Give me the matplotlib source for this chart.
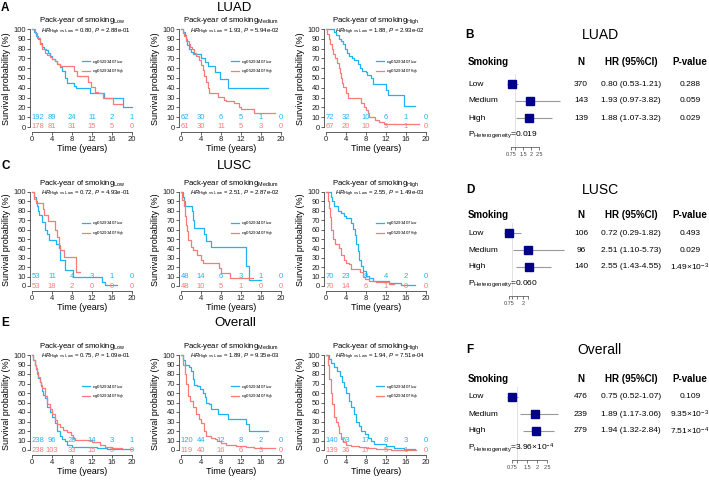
import numpy as np
import matplotlib
matplotlib.use('Agg')
import matplotlib.pyplot as plt
from matplotlib.transforms import blended_transform_factory

plt.rcParams['font.family'] = ['Liberation Sans', 'DejaVu Sans']
plt.rcParams['mathtext.fontset'] = 'custom'
plt.rcParams['mathtext.rm'] = 'Liberation Sans'
plt.rcParams['mathtext.it'] = 'Liberation Sans:italic'
plt.rcParams['mathtext.bf'] = 'Liberation Sans:bold'

W, H = 709, 480
BLUE = '#1fb3f2'
RED = '#f77b7b'
NAVY = '#00008b'

# ---------------- data ----------------
risk_times = [0, 4, 8, 12, 16, 20]
strata = ['Low', 'Medium', 'High']

# (time, survival %); *_lo = cg05293407 Low, *_hi = High
luad_low_lo = ([0, 0.4, 0.8, 1.2, 1.6, 2.0, 2.4, 2.8, 3.2, 3.6, 4.0, 4.5, 5.0, 5.5, 6.0, 6.5, 7.0, 8.3, 8.8, 11.6, 14.3, 18.2, 20.0],
               [100, 97, 93, 90, 86, 82, 80, 79, 76, 72, 69, 67, 64, 61, 57, 50, 45, 42, 40, 35, 30, 20, 20])
luad_low_hi = ([0, 0.5, 1.0, 1.5, 2.0, 2.5, 3.0, 3.5, 4.0, 4.5, 5.0, 5.5, 8.3, 9.0, 11.2, 11.8, 12.5, 13.2, 14.2, 16.2, 18.0],
               [100, 96, 91, 85, 80, 76, 73, 71, 69, 67, 64, 62, 57, 52, 46, 41, 36, 35, 30, 23, 23])
luad_med_lo = ([0, 0.3, 0.8, 1.0, 1.2, 1.5, 2.0, 2.3, 4.0, 4.8, 5.3, 6.7, 7.7, 9.3, 17.3],
               [100, 97, 94, 90, 84, 80, 77, 74, 70, 66, 62, 56, 49, 40, 40])
luad_med_hi = ([0, 0.3, 0.6, 1.0, 1.5, 1.8, 2.2, 2.5, 3.0, 3.5, 4.0, 4.3, 4.6, 4.9, 5.3, 5.6, 7.3, 8.5, 9.0, 10.5, 11.6, 12.0, 14.6, 18.7],
               [100, 96, 93, 88, 85, 82, 80, 76, 72, 68, 63, 58, 52, 46, 40, 35, 31, 28, 27, 24, 20, 18, 14, 14])
luad_high_lo = ([0, 1.5, 1.9, 2.5, 3.0, 3.3, 3.8, 4.1, 4.5, 5.2, 5.6, 6.3, 6.8, 7.2, 8.0, 8.2, 8.9, 9.4, 11.9, 12.3, 15.5, 17.8],
                [100, 97, 94, 90, 88, 85, 80, 76, 72, 70, 68, 64, 60, 57, 56, 53, 50, 44, 38, 33, 21, 21])
luad_high_hi = ([0, 0.2, 0.5, 0.8, 1.1, 1.4, 1.8, 2.2, 2.6, 2.8, 3.0, 3.2, 3.4, 4.0, 4.3, 7.0, 7.5, 7.9, 8.3, 8.6, 9.8, 10.5, 11.5, 18.7],
                [100, 95, 90, 85, 80, 75, 70, 65, 60, 55, 50, 45, 41, 35, 30, 25, 20, 17, 14, 10, 7, 5, 3, 3])

lusc_low_lo = ([0, 0.3, 0.7, 0.9, 1.1, 1.3, 2.0, 2.5, 3.0, 3.3, 4.7, 5.3, 5.5, 6.6, 8.2, 13.9, 14.5, 17.0],
               [100, 95, 90, 85, 80, 76, 68, 60, 55, 49, 45, 40, 28, 17, 10, 4, 1, 1])
lusc_low_hi = ([0, 0.4, 0.7, 2.1, 2.4, 3.1, 4.5, 4.9, 5.3, 5.6, 6.3, 8.7, 9.6],
               [100, 93, 88, 82, 76, 69, 60, 52, 44, 38, 31, 15, 15])
lusc_med_lo = ([0, 0.3, 0.5, 0.8, 2.1, 2.3, 2.6, 4.5, 4.9, 5.9, 13.0, 13.6, 16.0],
               [100, 95, 90, 85, 80, 70, 62, 55, 48, 41, 21, 6, 6])
lusc_med_hi = ([0, 0.2, 0.5, 0.8, 1.0, 1.2, 1.4, 2.0, 2.3, 3.2, 4.0, 4.4, 7.5, 8.0, 9.7, 14.3],
               [100, 92, 85, 75, 65, 58, 49, 42, 38, 33, 28, 24, 19, 14, 8, 8])
lusc_high_lo = ([0, 0.9, 1.1, 1.6, 2.3, 3.0, 3.6, 4.0, 4.9, 5.4, 5.7, 6.0, 6.3, 6.6, 6.9, 7.4, 8.0, 8.6, 9.3, 12.5, 15.0, 17.8],
                [100, 95, 90, 85, 80, 78, 74, 72, 67, 61, 54, 45, 37, 28, 21, 16, 11, 8, 5, 3, 1, 1])
lusc_high_hi = ([0, 0.3, 0.5, 0.8, 1.0, 1.3, 1.8, 2.5, 3.0, 3.5, 4.0, 4.5, 5.0, 6.7, 7.3, 7.8, 8.5, 10.0, 12.5, 13.5],
                [100, 90, 83, 73, 60, 50, 45, 40, 33, 28, 25, 23, 18, 15, 10, 7, 5, 4, 2, 2])

all_low_lo = ([0, 0.25, 0.5, 0.75, 1.0, 1.25, 1.5, 1.75, 2.0, 2.25, 2.5, 3.0, 3.5, 4.0, 4.5, 5.0, 5.5, 6.0, 6.5, 7.0, 8.0, 13.0, 15.0, 20.0],
              [100, 95, 90, 85, 80, 76, 72, 67, 62, 58, 55, 45, 40, 35, 28, 20, 15, 12, 9, 5, 3, 2, 1, 1])
all_low_hi = ([0, 0.25, 0.5, 0.75, 1.0, 1.25, 1.5, 1.75, 2.0, 2.5, 3.0, 3.5, 4.0, 4.5, 5.0, 5.5, 6.2, 7.0, 7.7, 8.2, 8.6, 12.0, 13.5, 14.5, 16.0, 18.0],
              [100, 95, 90, 86, 82, 77, 72, 68, 65, 57, 48, 43, 38, 32, 27, 24, 21, 19, 16, 13, 11, 8, 5, 3, 2, 1])
all_med_lo = ([0, 0.3, 0.8, 1.5, 2.0, 2.3, 2.6, 3.2, 3.8, 4.3, 4.7, 5.0, 5.5, 6.0, 7.3, 9.3, 13.0, 13.5, 17.3],
              [100, 95, 90, 87, 83, 75, 68, 67, 64, 60, 56, 50, 48, 43, 38, 33, 27, 20, 20])
all_med_hi = ([0, 0.4, 0.8, 1.0, 1.3, 1.8, 2.3, 3.0, 3.6, 4.0, 4.5, 5.0, 6.0, 6.8, 7.2, 8.0, 9.0, 11.0, 13.0, 14.5, 18.7],
              [100, 90, 80, 70, 57, 52, 45, 38, 33, 28, 20, 15, 13, 12, 10, 7, 5, 4, 3, 2, 2])
all_high_lo = ([0, 0.6, 1.0, 1.5, 2.2, 2.7, 3.2, 3.6, 4.0, 4.5, 5.0, 5.5, 6.0, 6.5, 7.0, 7.7, 8.4, 9.0, 9.5, 12.0, 13.5, 15.5, 17.8],
               [100, 96, 92, 87, 83, 78, 72, 66, 60, 52, 45, 38, 30, 25, 20, 17, 13, 10, 6, 4, 2, 1, 1])
all_high_hi = ([0, 0.3, 0.6, 0.9, 1.2, 1.6, 2.0, 2.3, 2.6, 3.0, 3.4, 4.0, 5.0, 6.5, 8.0, 10.0, 13.0, 18.0],
               [100, 90, 75, 60, 48, 35, 30, 25, 18, 12, 8, 5, 4, 3, 2, 1, 0.5, 0.5])

# numbers at risk at risk_times (Low methylation, High methylation)
luad_risk = [([192, 89, 24, 11, 2, 1], [178, 81, 31, 15, 5, 0]),
             ([62, 30, 6, 5, 1, 0], [61, 30, 11, 5, 3, 0]),
             ([72, 32, 10, 6, 1, 0], [67, 20, 10, 3, 1, 0])]
lusc_risk = [([53, 11, 4, 3, 1, 0], [53, 18, 2, 0, 0, 0]),
             ([48, 14, 6, 3, 1, 0], [48, 10, 5, 1, 0, 0]),
             ([70, 23, 8, 4, 2, 0], [70, 14, 6, 1, 0, 0])]
all_risk = [([238, 96, 28, 14, 3, 1], [238, 103, 33, 15, 5, 0]),
            ([120, 44, 12, 8, 2, 0], [119, 40, 16, 6, 3, 0]),
            ([140, 53, 17, 8, 3, 0], [139, 36, 17, 5, 1, 0])]

luad_km_hr = ['0.80', '1.93', '1.88']
luad_km_p = ['2.88e-01', '5.94e-02', '2.93e-02']
lusc_km_hr = ['0.72', '2.51', '2.55']
lusc_km_p = ['4.93e-01', '2.87e-02', '1.49e-03']
all_km_hr = ['0.75', '1.89', '1.94']
all_km_p = ['1.09e-01', '9.35e-03', '7.51e-04']

# forest plot data
luad_n = [370, 143, 139]
luad_hr = [0.80, 1.93, 1.88]
luad_lo = [0.53, 0.97, 1.07]
luad_hi = [1.21, 3.82, 3.32]
luad_p = ['0.288', '0.059', '0.029']
luad_phet = '0.019'

lusc_n = [106, 96, 140]
lusc_hr = [0.72, 2.51, 2.55]
lusc_lo = [0.29, 1.10, 1.43]
lusc_hi = [1.82, 5.73, 4.55]
lusc_p = ['0.493', '0.029', r'1.49×10$^{-3}$']
lusc_phet = '0.060'

all_n = [476, 239, 279]
all_hr = [0.75, 1.89, 1.94]
all_lo = [0.52, 1.17, 1.32]
all_hi = [1.07, 3.06, 2.84]
all_p = ['0.109', r'9.35×10$^{-3}$', r'7.51×10$^{-4}$']
all_phet = r'3.96×10$^{-4}$'

forest_ticks = [0.75, 1, 1.5, 2, 2.5]

# ---------------- drawing ----------------
fig = plt.figure(figsize=(W / 100, H / 100), dpi=100)


def px_axes(left, top, right, bottom):
    return fig.add_axes([left / W, 1 - bottom / H, (right - left) / W, (bottom - top) / H])


def ftext(x, y, s, **kw):
    fig.text(x / W, 1 - y / H, s, **kw)


def km_plot(x0, y100, y0, group, curve_lo, curve_hi, risk, hr, p):
    sy = (y0 - y100) / 100.0
    ax = px_axes(x0 - 2, y100 - 3 * sy, x0 + 102, y0 + 5 * sy)
    ax.set_xlim(-0.4, 20.4)
    ax.set_ylim(-5, 103)
    l1, = ax.step(curve_lo[0], curve_lo[1], where='post', color=BLUE, lw=0.9)
    l2, = ax.step(curve_hi[0], curve_hi[1], where='post', color=RED, lw=0.9)
    for k, (t, a, b) in enumerate(zip(risk_times, risk[0], risk[1])):
        # the first column of the risk table starts at t=0 instead of being centred on it
        ha = 'left' if k == 0 else 'center'
        tx = t - 0.1 if k == 0 else t
        ax.text(tx, 10, str(a), color=BLUE, ha=ha, va='center', fontsize=5.5)
        ax.text(tx, 0, str(b), color=RED, ha=ha, va='center', fontsize=5.5)
    ax.text(1.8, 97.5, r'$HR_{\mathrm{High\ vs\ Low}}$ = ' + hr + r', $P$ = ' + p,
            fontsize=4.3, va='center', ha='left')
    ax.legend([l1, l2], [r'cg05293407$_{\mathrm{Low}}$', r'cg05293407$_{\mathrm{High}}$'],
              loc='center left', bbox_to_anchor=(10.4 / 20.8, 66 / 108), frameon=False,
              fontsize=3.2, handlelength=1.8, handletextpad=0.5, labelspacing=0.35,
              borderpad=0, borderaxespad=0)
    ax.set_title('Pack-year of smoking$_{\\mathrm{' + group + '}}$', fontsize=5.6, pad=1.5)
    for side in ['top', 'right']:
        ax.spines[side].set_visible(False)
    ax.spines['left'].set_bounds(0, 100)
    ax.spines['bottom'].set_bounds(0, 20)
    for side in ['left', 'bottom']:
        ax.spines[side].set_linewidth(0.6)
        ax.spines[side].set_color('#444444')
    ax.set_xticks(risk_times)
    ax.set_yticks(np.arange(0, 101, 10))
    ax.tick_params(labelsize=5.5, length=2, width=0.6, pad=1, colors='#444444', labelcolor='#222222')
    ax.set_xlabel('Time (years)', fontsize=6.5, labelpad=0.5)
    ax.set_ylabel('Survival probability (%)', fontsize=6.5, labelpad=1.5)
    return ax


def forest_plot(letter, title, title_y, head_y, row0, x075, scale, n, hr, lo, hi, pvals, phet, ticklabels):
    pitch = 17.0
    axis_row = 3.7
    top = row0 - pitch
    bottom = row0 + axis_row * pitch
    ax = px_axes(x075 - 0.5 * scale, top, x075 + 5.75 * scale, bottom)
    ax.set_xlim(0.25, 6.5)
    ax.set_ylim(axis_row, -1)
    ax.patch.set_alpha(0)
    rows = np.arange(len(hr))
    ax.plot([1, 1], [-0.6, axis_row], color='#dddddd', lw=0.6, clip_on=False)
    ax.hlines(rows, lo, hi, color='#999999', lw=0.8, clip_on=False)
    ax.plot(hr, rows, 's', color=NAVY, markersize=5.5, clip_on=False)
    for side in ['top', 'right', 'left']:
        ax.spines[side].set_visible(False)
    ax.spines['bottom'].set_bounds(0.75, 2.5)
    ax.spines['bottom'].set_linewidth(0.5)
    ax.spines['bottom'].set_color('#444444')
    ax.set_yticks([])
    ax.set_xticks(forest_ticks)
    ax.set_xticklabels(ticklabels)
    ax.tick_params(axis='x', labelsize=4, length=2, width=0.5, pad=1.5, colors='#444444')

    tr = blended_transform_factory(fig.transFigure, ax.transData)
    hy = (head_y - row0) / pitch
    col_lab, col_n, col_hr, col_p = 468 / W, 581 / W, 631 / W, 690 / W
    ax.text(col_lab, hy, 'Smoking', transform=tr, fontsize=7, fontweight='bold', ha='left', va='center')
    ax.text(col_n, hy, 'N', transform=tr, fontsize=7, fontweight='bold', ha='center', va='center')
    ax.text(col_hr, hy, 'HR (95%CI)', transform=tr, fontsize=7, fontweight='bold', ha='center', va='center')
    ax.text(col_p, hy, 'P-value', transform=tr, fontsize=7, fontweight='bold', ha='center', va='center')
    for i in rows:
        ax.text(col_lab, i, strata[i], transform=tr, fontsize=6, ha='left', va='center')
        ax.text(col_n, i, str(n[i]), transform=tr, fontsize=6, ha='center', va='center')
        ax.text(col_hr, i, '%.2f (%.2f-%.2f)' % (hr[i], lo[i], hi[i]), transform=tr,
                fontsize=6, ha='center', va='center')
        ax.text(col_p, i, pvals[i], transform=tr, fontsize=6, ha='center', va='center')
    ax.text(col_lab, 3, r'P$_{\mathrm{Heterogeneity}}$=' + phet, transform=tr,
            fontsize=6, ha='left', va='center')
    ftext(470, title_y, letter, fontsize=8.5, fontweight='bold', ha='center', va='center')
    ftext(600, title_y, title, fontsize=10, ha='center', va='center')


cols = [32, 181, 326]
groups = ['Low', 'Medium', 'High']

luad_curves = [(luad_low_lo, luad_low_hi), (luad_med_lo, luad_med_hi), (luad_high_lo, luad_high_hi)]
lusc_curves = [(lusc_low_lo, lusc_low_hi), (lusc_med_lo, lusc_med_hi), (lusc_high_lo, lusc_high_hi)]
all_curves = [(all_low_lo, all_low_hi), (all_med_lo, all_med_hi), (all_high_lo, all_high_hi)]

rows_def = [(29, 127, luad_curves, luad_risk, luad_km_hr, luad_km_p),
            (192, 286, lusc_curves, lusc_risk, lusc_km_hr, lusc_km_p),
            (355, 450, all_curves, all_risk, all_km_hr, all_km_p)]

for y100, y0, curves, risks, hrs, ps in rows_def:
    for j in range(3):
        km_plot(cols[j], y100, y0, groups[j], curves[j][0], curves[j][1], risks[j], hrs[j], ps[j])

ftext(1, 8, 'A', fontsize=8.5, fontweight='bold', ha='left', va='center')
ftext(1, 166, 'C', fontsize=8.5, fontweight='bold', ha='left', va='center')
ftext(1, 323, 'E', fontsize=8.5, fontweight='bold', ha='left', va='center')
ftext(235, 8, 'LUAD', fontsize=9.5, ha='center', va='center')
ftext(235, 166, 'LUSC', fontsize=9.5, ha='center', va='center')
ftext(235, 323, 'Overall', fontsize=9.5, ha='center', va='center')

forest_plot('B', 'LUAD', 35, 62, 84, 511, 16, luad_n, luad_hr, luad_lo, luad_hi, luad_p, luad_phet,
            ['0.75', '', '1.5', '2', '2.5'])
forest_plot('D', 'LUSC', 190, 215, 233, 509, 11, lusc_n, lusc_hr, lusc_lo, lusc_hi, lusc_p, lusc_phet,
            ['0.75', '', '', '2', ''])
forest_plot('F', 'Overall', 350, 379, 397, 512, 20, all_n, all_hr, all_lo, all_hi, all_p, all_phet,
            ['0.75', '', '1.5', '2', '2.5'])

fig.savefig('out.png', dpi=100)
